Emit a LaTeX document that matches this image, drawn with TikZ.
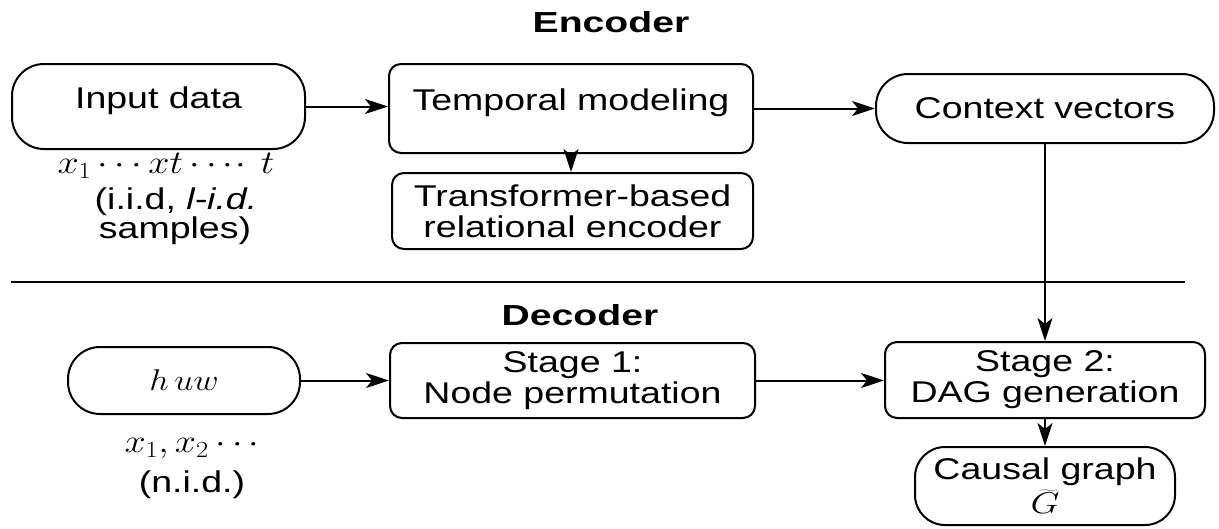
\RequirePackage{fix-cm}
\documentclass[tikz,border=0pt]{standalone}
\usepackage[no-math]{fontspec}
\setmainfont{Liberation Sans}
\usetikzlibrary{arrows.meta}
\newcommand{\hs}[1]{\scalebox{1.25}[1]{#1}}
\newcommand{\hm}[1]{\scalebox{1.15}[1]{#1}}
\newcommand{\hb}[1]{\scalebox{1.35}[1]{#1}}
\newcommand{\up}[1]{\raisebox{6pt}[\height][\depth]{#1}}
\begin{document}
\begin{tikzpicture}[x=1pt,y=-1pt,
  every node/.style={inner sep=0pt, align=center, font=\fontsize{30}{31}\selectfont},
  pill/.style={draw, line width=2pt, rounded corners=32pt},
  card/.style={draw, line width=2pt, rounded corners=12pt},
  conn/.style={line width=2pt, -{Stealth[length=23pt,width=15pt,inset=6pt]}},
  title/.style={font=\fontsize{29}{30}\selectfont\bfseries},
  mathlbl/.style={font=\fontsize{33}{34}\selectfont}
]
\useasboundingbox (0,0) rectangle (1219,528);

% titles
\node[title] (enc) at (611,22) {\hb{Encoder}};
\node[title] (dec) at (580,315) {\hb{Decoder}};

% encoder nodes
\node[pill, minimum width=293pt, minimum height=85pt] (input) at (158.5,106.5) {\up{\hs{Input data}}};
\node[card, minimum width=364pt, minimum height=89pt] (temporal) at (571,108.5) {\up{\hs{Temporal modeling}}};
\node[card, minimum width=361pt, minimum height=76pt] (transf) at (572.5,211) {\hs{Transformer-based}\\\hs{relational encoder}};
\node[pill, minimum width=338pt, minimum height=69pt] (context) at (1045,108.5) {\hs{Context vectors}};

\node[mathlbl] (xs) at (166,166) {\hm{$x_1\cdots xt\cdots\!\cdot\, t$}};
\node (iid) at (176,202) {\hs{(i.i.d, \textit{l-i.d.}}};
\node (samples) at (175,231) {\hs{samples)}};

% divider
\coordinate (dl) at (11,282);
\coordinate (dr) at (1185,282);
\draw[line width=2pt] (dl) -- (dr);

% decoder nodes
\node[pill, minimum width=232pt, minimum height=67pt] (huw) at (184,380.5) {\hm{$h\,uw$}};
\node[card, minimum width=365pt, minimum height=75pt] (stage1) at (572.5,380.5) {\hs{Stage 1:}\\\hs{Node permutation}};
\node[card, minimum width=320pt, minimum height=76pt] (stage2) at (1045,380) {\hs{Stage 2:}\\\hs{DAG generation}};
\node[pill, rounded corners=30pt, minimum width=260pt, minimum height=78pt] (causal) at (1045,486) {\hs{Causal graph}\\[3pt]\hs{$\widetilde{G}$}};

\node[mathlbl] (xs2) at (192,448) {\hm{$x_1,x_2\cdots$}};
\node (nid) at (192,485) {\hs{(n.i.d.)}};

% connectors
\draw[conn] (input.east) -- (input.east -| temporal.west);
\draw[conn] (temporal.east) -- (temporal.east -| context.west);
\draw[conn] (temporal.south) -- (temporal.south |- transf.north);
\draw[conn] (context.south) -- (context.south |- stage2.north);
\draw[conn] (huw.east) -- (huw.east -| stage1.west);
\draw[conn] (stage1.east) -- (stage1.east -| stage2.west);
\draw[conn] (stage2.south) -- (causal.north);
\end{tikzpicture}
\end{document}
